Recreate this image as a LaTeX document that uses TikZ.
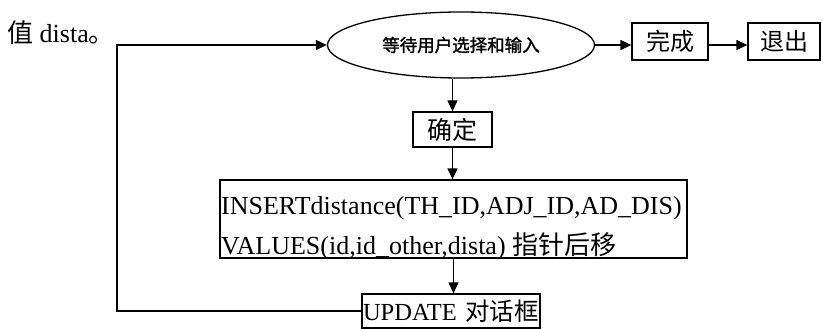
\documentclass[tikz,border=0pt]{standalone}
\usepackage{fontspec}
\setmainfont{Liberation Serif}
\newfontfamily\cjk{Noto Sans CJK SC}
\newfontfamily\cjkb[FakeBold=1.5]{Noto Sans CJK SC}
\usetikzlibrary{arrows.meta,shapes.geometric}
\tikzset{
  box/.style={draw, line width=1.3pt, inner sep=0pt, anchor=center},
  arr/.style={line width=1.3pt, -{Triangle[length=11pt,width=10pt]}},
  txt/.style={inner sep=0pt, anchor=base west},
}
\begin{document}
\begin{tikzpicture}[x=1pt,y=-1pt]
\useasboundingbox (0,0) rectangle (823,329);
\node[anchor=west, inner sep=0pt, font=\fontsize{26}{28}\selectfont] (title) at (7,33) {{\cjk 值} dista{\cjk 。}};
\node[draw, ellipse, line width=1.3pt, minimum width=267pt, minimum height=66pt, inner sep=0pt,
      font=\cjkb\fontsize{17.5}{19}\selectfont] (wait) at (461,45) {等待用户选择和输入};
\node[box, minimum width=76pt, minimum height=37pt, font=\cjk\fontsize{24}{26}\selectfont] (done) at (670,41.5) {完成};
\node[box, minimum width=72pt, minimum height=37pt, font=\cjk\fontsize{24}{26}\selectfont] (exit) at (784,41.5) {退出};
\node[box, minimum width=79pt, minimum height=35pt, font=\cjk\fontsize{25}{26}\selectfont] (ok) at (452.5,129.5) {确定};
\node[box, minimum width=467pt, minimum height=78pt] (big) at (453.5,219) {};
\node[txt, font=\fontsize{26}{28}\selectfont] (l1) at (221,214) {INSERTdistance(TH\_ID,ADJ\_ID,AD\_DIS)};
\node[txt, font=\fontsize{26}{28}\selectfont] (l2) at (221,254) {VALUES(id,id\_other,dista) {\cjk 指针后移}};
\node[box, minimum width=178pt, minimum height=34pt, text width=176pt, align=left,
      font=\fontsize{24.5}{26}\selectfont] (upd) at (451,311) {UPDATE {\cjk 对话框}};
\coordinate (lp) at (117,45);
\draw[arr] (wait.east) -- (wait.east -| done.west);
\draw[arr] (done.east |- wait.east) -- (exit.west |- wait.east);
\draw[arr] (ok.north |- wait.south) -- (ok.north);
\draw[arr] (ok.south) -- (ok.south |- big.north);
\draw[arr] (big.south) -- (big.south |- upd.north);
\draw[arr] (upd.west) -| (lp) -- (wait.west);
\end{tikzpicture}
\end{document}
